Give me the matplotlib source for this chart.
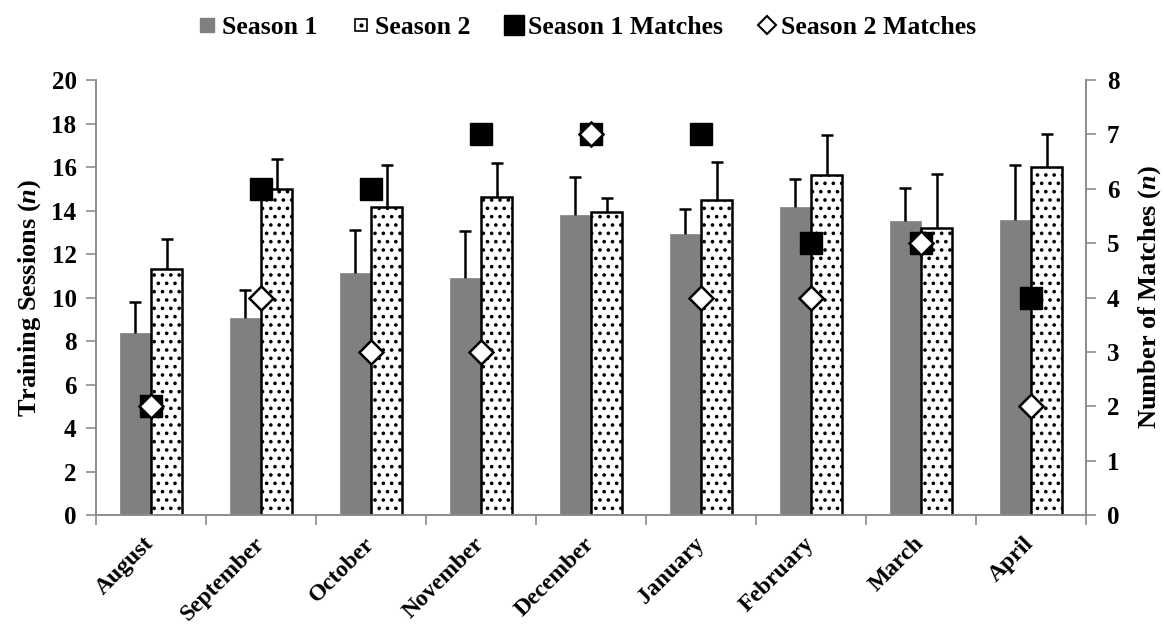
import matplotlib

matplotlib.use("Agg")

import matplotlib.pyplot as plt
import numpy as np
from matplotlib.lines import Line2D

months = ["August", "September", "October", "November", "December",
          "January", "February", "March", "April"]
season1 = [8.37, 9.05, 11.12, 10.9, 13.8, 12.92, 14.15, 13.52, 13.56]
season1_top = [9.78, 10.34, 13.1, 13.05, 15.52, 14.06, 15.44, 15.02, 16.1]
season2 = [11.3, 14.98, 14.16, 14.62, 13.93, 14.48, 15.62, 13.2, 16.0]
season2_top = [12.68, 16.35, 16.08, 16.18, 14.56, 16.23, 17.46, 15.68, 17.52]
season1_matches = [2, 6, 6, 7, 7, 7, 5, 5, 4]
season2_matches = [2, 4, 3, 3, 7, 4, 4, 5, 2]

plt.rcParams["font.family"] = ["Liberation Serif", "DejaVu Serif"]
plt.rcParams["font.weight"] = "bold"
plt.rcParams["mathtext.fontset"] = "custom"
plt.rcParams["mathtext.rm"] = "Liberation Serif:bold"
plt.rcParams["mathtext.it"] = "Liberation Serif:bold:italic"
plt.rcParams["mathtext.bf"] = "Liberation Serif:bold"
plt.rcParams["mathtext.bfit"] = "Liberation Serif:bold:italic"
plt.rcParams["hatch.linewidth"] = 1.4

AXIS_GREY = "#8c8c8c"

fig = plt.figure(figsize=(11.64, 6.3), dpi=100)
ax = fig.add_axes([0.0825, 0.1825, 0.8505, 0.6905])

x = np.arange(len(months))
width = 0.285
x1 = x - width / 2
x2 = x + width / 2

ax.bar(x1, season1, width, color="#808080", edgecolor="#808080",
       linewidth=0.5, zorder=2)
ax.bar(x2, season2, width, color="white", edgecolor="black",
       linewidth=1.8, hatch="..", zorder=2)

# upper error bars only
ax.vlines(x1, season1, season1_top, color="black", linewidth=1.8, zorder=3)
ax.vlines(x2, season2, season2_top, color="black", linewidth=1.8, zorder=3)
ax.plot(x1, season1_top, linestyle="none", marker="_", markersize=9,
        markeredgewidth=1.8, color="black", zorder=3)
ax.plot(x2, season2_top, linestyle="none", marker="_", markersize=9,
        markeredgewidth=1.8, color="black", zorder=3)

ax.set_xlim(-0.5, len(months) - 0.5)
ax.set_ylim(0, 20)
ax.set_yticks(range(0, 21, 2), [str(v) for v in range(0, 21, 2)],
              fontsize=18, fontweight="bold")
# label anchors nudged left so the rotated text ends at the category centre
ax.set_xticks(x - 0.07, months, rotation=45, ha="right",
              rotation_mode="anchor", fontsize=17, fontweight="bold")
ax.set_xticks(np.arange(-0.5, len(months), 1.0), minor=True)
ax.tick_params(axis="x", which="major", length=0, pad=13)
ax.tick_params(axis="x", which="minor", length=7, color=AXIS_GREY, width=1.2)
ax.tick_params(axis="y", length=7, color=AXIS_GREY, width=1.2, pad=7)
ax.set_ylabel("Training Sessions ($\\mathbfit{n}$)", fontsize=19,
              fontweight="bold", labelpad=6)

ax2 = ax.twinx()
ax2.set_ylim(0, 8)
ax2.set_yticks(range(0, 9), [str(v) for v in range(0, 9)],
               fontsize=18, fontweight="bold")
ax2.tick_params(axis="y", length=7, color=AXIS_GREY, width=1.2, pad=8)
ax2.set_ylabel("Number of Matches ($\\mathbfit{n}$)", fontsize=19,
               fontweight="bold", labelpad=12)
ax2.plot(x, season1_matches, linestyle="none", marker="s", markersize=16,
         markerfacecolor="black", markeredgecolor="black", zorder=4)
ax2.plot(x, season2_matches, linestyle="none", marker="D", markersize=12,
         markerfacecolor="white", markeredgecolor="black", markeredgewidth=1.8,
         zorder=5)

for axis in (ax, ax2):
    axis.spines["top"].set_visible(False)
    for side in ("left", "right", "bottom"):
        axis.spines[side].set_color(AXIS_GREY)
        axis.spines[side].set_linewidth(1.2)

handles = [
    Line2D([], [], linestyle="none", marker="s", markersize=10,
           markerfacecolor="#808080", markeredgecolor="#808080"),
    (Line2D([], [], linestyle="none", marker="s", markersize=9,
            markerfacecolor="white", markeredgecolor="black",
            markeredgewidth=1.2),
     Line2D([], [], linestyle="none", marker="o", markersize=2,
            markerfacecolor="black", markeredgecolor="black")),
    Line2D([], [], linestyle="none", marker="s", markersize=14,
           markerfacecolor="black", markeredgecolor="black"),
    Line2D([], [], linestyle="none", marker="D", markersize=9,
           markerfacecolor="white", markeredgecolor="black",
           markeredgewidth=1.5),
]
labels = ["Season 1", "Season 2", "Season 1 Matches", "Season 2 Matches"]
fig.legend(handles, labels, loc="center", bbox_to_anchor=(0.505, 0.957),
           ncol=4, frameon=False, handlelength=0.6, handleheight=0.7,
           handletextpad=0.25, columnspacing=1.4,
           prop={"weight": "bold", "size": 18.5})

fig.savefig("out.png", dpi=100)
